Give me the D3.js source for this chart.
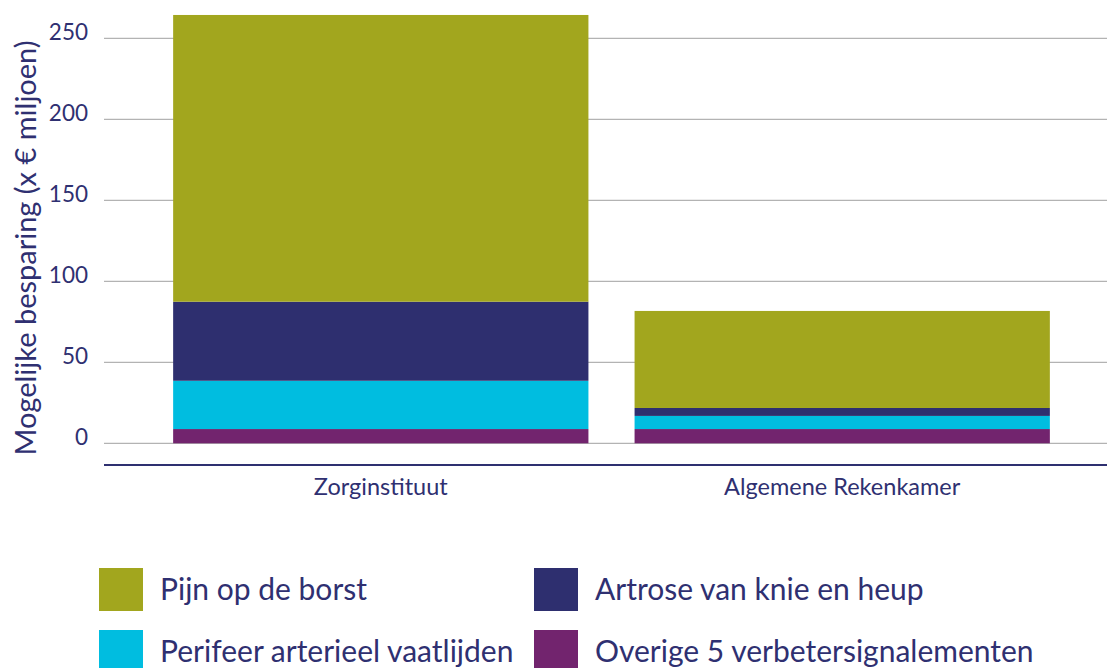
<!DOCTYPE html>
<html>
<head>
<meta charset="utf-8">
<script src="https://cdn.jsdelivr.net/npm/d3@7"></script>
<style>
  body { margin: 0; background: #fff; }
  svg text { font-family: Lato, "Open Sans", sans-serif; fill: #2f3071; }
</style>
</head>
<body>
<svg id="chart" width="1107" height="668"></svg>
<script>
const categories = ["Zorginstituut", "Algemene Rekenkamer"];
const seriesNames = ["Overige 5 verbetersignalementen", "Perifeer arterieel vaatlijden", "Artrose van knie en heup", "Pijn op de borst"];
const overige = [8.8, 8.8];
const perifeer = [29.8, 8.1];
const artrose = [48.8, 4.9];
const pijn = [177, 59.9];
const yTicks = [0, 50, 100, 150, 200, 250];
const legendOrder = ["Pijn op de borst", "Artrose van knie en heup", "Perifeer arterieel vaatlijden", "Overige 5 verbetersignalementen"];

const colors = {
  "Pijn op de borst": "#a2a61e",
  "Artrose van knie en heup": "#2e2f6f",
  "Perifeer arterieel vaatlijden": "#00bde0",
  "Overige 5 verbetersignalementen": "#72246e"
};

let rows = categories.map((c, i) => ({
  cat: c,
  "Overige 5 verbetersignalementen": overige[i],
  "Perifeer arterieel vaatlijden": perifeer[i],
  "Artrose van knie en heup": artrose[i],
  "Pijn op de borst": pijn[i]
}));

let stacked = d3.stack().keys(seriesNames)(rows);

let svg = d3.select("#chart");

let x = d3.scaleBand()
  .domain(categories)
  .range([127, 1096])
  .paddingInner(0.1)
  .paddingOuter(0.1);

let y = d3.scaleLinear()
  .domain([0, 250])
  .range([443.3, 38.3]);

// gridlines
svg.append("g")
  .selectAll("line")
  .data(yTicks)
  .join("line")
    .attr("x1", 104)
    .attr("x2", 1107)
    .attr("y1", d => y(d))
    .attr("y2", d => y(d))
    .attr("stroke", "#b3b3b3")
    .attr("stroke-width", 1.3);

// tick labels
svg.append("g")
  .selectAll("text")
  .data(yTicks)
  .join("text")
    .text(d => d)
    .attr("x", 88)
    .attr("y", d => y(d) + 1.5)
    .style("text-anchor", "end")
    .style("font-size", "22.5px");

// bars
svg.append("g")
  .selectAll("g")
  .data(stacked)
  .join("g")
    .attr("fill", d => colors[d.key])
  .selectAll("rect")
  .data(d => d)
  .join("rect")
    .attr("x", d => x(d.data.cat))
    .attr("width", x.bandwidth())
    .attr("y", d => y(d[1]))
    .attr("height", d => y(d[0]) - y(d[1]));

// category axis line
svg.append("line")
  .attr("x1", 104)
  .attr("x2", 1107)
  .attr("y1", 465)
  .attr("y2", 465)
  .attr("stroke", "#2e3070")
  .attr("stroke-width", 2);

svg.append("g")
  .selectAll("text")
  .data(categories)
  .join("text")
    .text(d => d)
    .attr("x", d => x(d) + x.bandwidth() / 2)
    .attr("y", 495)
    .style("text-anchor", "middle")
    .style("font-size", "23.5px");

// y title
svg.append("text")
  .text("Mogelijke besparing (x € miljoen)")
  .attr("transform", "translate(36,248) rotate(-90)")
  .style("text-anchor", "middle")
  .style("font-size", "29px");

// legend
let legend = svg.append("g")
  .selectAll("g")
  .data(legendOrder)
  .join("g")
    .attr("transform", (d, i) => "translate(" + (i % 2 ? 534 : 99) + "," + (568 + Math.floor(i / 2) * 62) + ")");

legend.append("rect")
  .attr("width", 44)
  .attr("height", 43)
  .attr("fill", d => colors[d]);

legend.append("text")
  .text(d => d)
  .attr("x", 61)
  .attr("y", 32)
  .style("font-size", "30px");
</script>
</body>
</html>
